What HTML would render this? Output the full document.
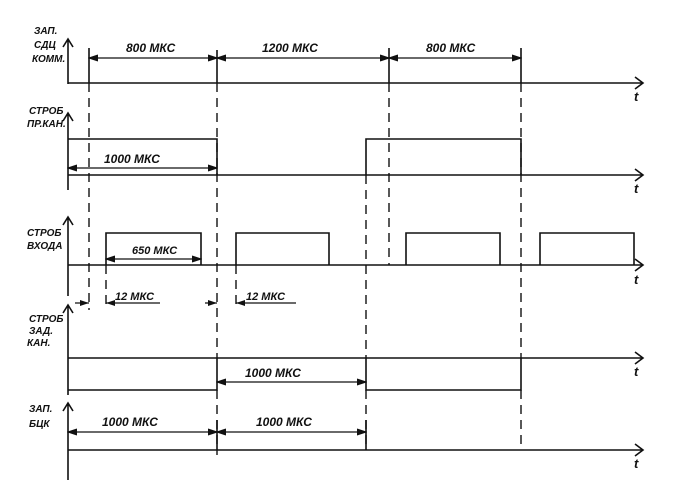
<!DOCTYPE html>
<html><head><meta charset="utf-8"><style>
html,body{margin:0;padding:0;background:#fff}
svg{display:block}
text{font-family:"Liberation Sans",sans-serif;font-style:italic;font-weight:bold;fill:#111}
</style></head><body>
<svg width="688" height="500" viewBox="0 0 688 500" xmlns="http://www.w3.org/2000/svg">
<defs>
<marker id="a" markerWidth="10" markerHeight="8" refX="9" refY="4" orient="auto-start-reverse" markerUnits="userSpaceOnUse">
<path d="M0,1 L9,4 L0,7" fill="#111" stroke="#111" stroke-width="1"/></marker>
</defs>
<g stroke="#111" stroke-width="1.6" fill="none">
<path d="M68,84 V40 M63,47 L68,39 L73,47"/>
<path d="M68,190 V114 M63,121 L68,113 L73,121"/>
<path d="M68,296 V218 M63,225 L68,217 L73,225"/>
<path d="M68,395 V306 M63,313 L68,305 L73,313"/>
<path d="M68,480 V404 M63,411 L68,403 L73,411"/>
<path d="M68,83 H642 M635,77 L643,83 L635,89"/>
<path d="M68,175 H642 M635,169 L643,175 L635,181"/>
<path d="M68,265 H642 M635,259 L643,265 L635,271"/>
<path d="M68,358 H642 M635,352 L643,358 L635,364"/>
<path d="M68,450 H642 M635,444 L643,450 L635,456"/>
<path d="M89,48 V83 M217,50 V83 M389,48 V83 M521,48 V83"/>
<path d="M68,139 H217 V175 M366,175 V139 H521 V175"/>
<path d="M106,265 V233 H201 V265 M236,265 V233 H329 V265 M406,265 V233 H500 V265 M540,265 V233 H634 V265"/>
<path d="M68,390 H217 V358 M366,358 V390 H521 V358"/>
<path d="M217,420 V450 M366,420 V450"/>
</g>
<g stroke="#111" stroke-width="1.4" stroke-dasharray="9,6" fill="none">
<path d="M89,83 V310"/>
<path d="M106,265 V310"/>
<path d="M217,83 V358 M217,390 V455"/>
<path d="M236,265 V310"/>
<path d="M366,175 V358 M366,390 V450"/>
<path d="M389,83 V265"/>
<path d="M521,83 V358 M521,390 V450"/>
</g>
<g stroke="#111" stroke-width="1.2" fill="none" marker-start="url(#a)" marker-end="url(#a)">
<line x1="89" y1="58" x2="217" y2="58"/>
<line x1="217" y1="58" x2="389" y2="58"/>
<line x1="389" y1="58" x2="521" y2="58"/>
<line x1="68" y1="168" x2="217" y2="168"/>
<line x1="106" y1="259" x2="201" y2="259"/>
<line x1="217" y1="382" x2="366" y2="382"/>
<line x1="68" y1="432" x2="217" y2="432"/>
<line x1="217" y1="432" x2="366" y2="432"/>
</g>
<g stroke="#111" stroke-width="1.2" fill="none">
<path d="M75,303 H89 M106,303 H160 M205,303 H217 M236,303 H296"/>
</g>
<g fill="#111">
<path d="M80,300 L89,303 L80,306 Z M115,300 L106,303 L115,306 Z M208,300 L217,303 L208,306 Z M245,300 L236,303 L245,306 Z"/>
</g>
<g font-size="10">
<text x="34" y="34">ЗАП.</text>
<text x="34" y="48">СДЦ</text>
<text x="32" y="62">КОММ.</text>
<text x="29" y="114">СТРОБ</text>
<text x="27" y="127">ПР.КАН.</text>
<text x="27" y="236">СТРОБ</text>
<text x="27" y="249">ВХОДА</text>
<text x="29" y="322">СТРОБ</text>
<text x="29" y="334">ЗАД.</text>
<text x="27" y="346">КАН.</text>
<text x="29" y="412">ЗАП.</text>
<text x="29" y="427">БЦК</text>
</g>
<g font-size="12">
<text x="126" y="52">800 МКС</text>
<text x="262" y="52">1200 МКС</text>
<text x="426" y="52">800 МКС</text>
<text x="104" y="163">1000 МКС</text>
<text x="132" y="254" font-size="11">650 МКС</text>
<text x="115" y="300" font-size="11">12 МКС</text>
<text x="246" y="300" font-size="11">12 МКС</text>
<text x="245" y="377">1000 МКС</text>
<text x="102" y="426">1000 МКС</text>
<text x="256" y="426">1000 МКС</text>
</g>
<g font-size="13">
<text x="634" y="101">t</text>
<text x="634" y="193">t</text>
<text x="634" y="284">t</text>
<text x="634" y="376">t</text>
<text x="634" y="468">t</text>
</g>
</svg>
</body></html>
